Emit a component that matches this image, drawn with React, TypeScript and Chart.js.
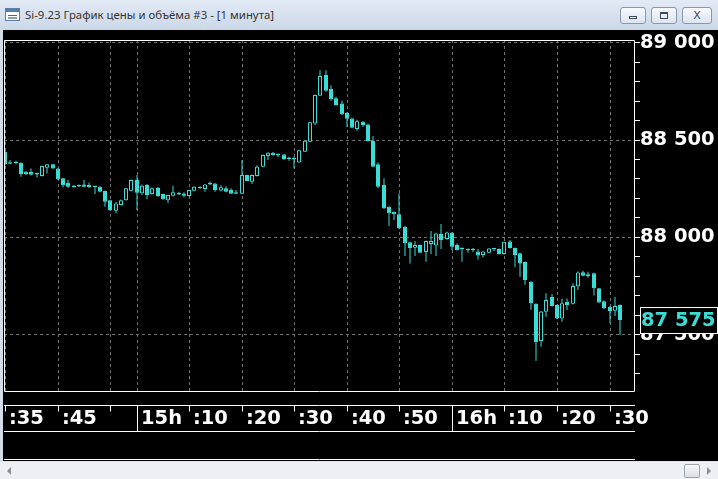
import React, { useEffect, useRef } from 'react';
import { Chart, registerables } from 'chart.js';

Chart.register(...registerables);

// 1-minute candles, index = minutes since 14:35
const opens = [
  88440, 88380, 88382, 88383, 88337, 88335, 88326, 88315, 88357, 88375,
  88354, 88303, 88280, 88266, 88263, 88272, 88269, 88261, 88260, 88238,
  88191, 88136, 88166, 88191, 88239, 88294, 88226, 88269, 88222, 88253,
  88222, 88191, 88213, 88222, 88225, 88212, 88239, 88260, 88248, 88281,
  88277, 88241, 88252, 88243, 88228, 88224, 88320, 88285, 88315, 88363,
  88418, 88435, 88425, 88426, 88406, 88403, 88385, 88440, 88491, 88585,
  88728, 88834, 88762, 88714, 88688, 88640, 88611, 88556, 88594, 88580,
  88495, 88376, 88269, 88157, 88131, 88119, 88054, 87974, 87946, 87960,
  87924, 87965, 87958, 88017, 87991, 88023, 87960, 87943, 87936, 87935,
  87927, 87909, 87921, 87943, 87940, 87914, 87979, 87945, 87918, 87873,
  87772, 87658, 87467, 87618, 87693, 87652, 87583, 87667, 87659, 87748,
  87820, 87810, 87815, 87738, 87672, 87643, 87622, 87652,
];
const highs = [
  88446, 88397, 88393, 88385, 88340, 88354, 88332, 88368, 88377, 88378,
  88356, 88305, 88294, 88268, 88272, 88294, 88280, 88264, 88262, 88240,
  88193, 88183, 88194, 88254, 88297, 88320, 88272, 88274, 88256, 88258,
  88224, 88219, 88265, 88234, 88232, 88245, 88262, 88262, 88274, 88285,
  88279, 88268, 88263, 88252, 88243, 88397, 88322, 88323, 88370, 88426,
  88437, 88438, 88431, 88428, 88414, 88414, 88450, 88498, 88594, 88734,
  88859, 88859, 88782, 88722, 88702, 88643, 88614, 88604, 88597, 88583,
  88520, 88384, 88303, 88160, 88133, 88226, 88058, 87977, 87981, 87963,
  87983, 88032, 88023, 88068, 88029, 88026, 87968, 87945, 87943, 87945,
  87940, 87929, 87945, 87945, 87942, 87979, 87986, 87948, 87920, 87876,
  87774, 87661, 87621, 87712, 87708, 87655, 87686, 87686, 87764, 87824,
  87828, 87823, 87818, 87740, 87675, 87646, 87693, 87655,
];
const lows = [
  88370, 88376, 88375, 88311, 88320, 88318, 88308, 88313, 88328, 88352,
  88294, 88256, 88254, 88255, 88259, 88257, 88254, 88222, 88232, 88157,
  88136, 88123, 88164, 88189, 88236, 88140, 88218, 88195, 88219, 88209,
  88193, 88176, 88210, 88218, 88205, 88210, 88237, 88250, 88234, 88269,
  88234, 88235, 88232, 88222, 88222, 88222, 88288, 88274, 88313, 88360,
  88397, 88421, 88411, 88397, 88393, 88354, 88383, 88438, 88489, 88577,
  88727, 88748, 88702, 88677, 88628, 88568, 88560, 88548, 88568, 88492,
  88360, 88252, 88146, 88058, 88089, 88043, 87904, 87865, 87904, 87918,
  87874, 87914, 87904, 87940, 87988, 87934, 87932, 87874, 87920, 87924,
  87886, 87896, 87918, 87929, 87912, 87910, 87942, 87846, 87797, 87756,
  87628, 87365, 87438, 87592, 87644, 87580, 87566, 87626, 87655, 87729,
  87800, 87792, 87701, 87663, 87632, 87558, 87595, 87498,
];
const closes = [
  88376, 88378, 88380, 88325, 88325, 88322, 88323, 88366, 88375, 88354,
  88298, 88268, 88260, 88259, 88261, 88260, 88257, 88258, 88234, 88183,
  88140, 88174, 88191, 88252, 88294, 88229, 88265, 88217, 88252, 88212,
  88195, 88217, 88232, 88220, 88214, 88243, 88260, 88252, 88272, 88271,
  88243, 88257, 88234, 88224, 88224, 88320, 88290, 88320, 88363, 88423,
  88435, 88423, 88422, 88402, 88403, 88400, 88448, 88496, 88591, 88731,
  88829, 88753, 88709, 88680, 88633, 88609, 88563, 88597, 88577, 88495,
  88363, 88260, 88149, 88123, 88119, 88046, 87969, 87945, 87960, 87921,
  87981, 87981, 88020, 87986, 88025, 87951, 87934, 87940, 87934, 87933,
  87906, 87927, 87943, 87938, 87914, 87977, 87945, 87909, 87866, 87780,
  87661, 87462, 87619, 87678, 87647, 87583, 87661, 87652, 87750, 87819,
  87802, 87801, 87738, 87665, 87635, 87621, 87647, 87575,
];

const timeTickMinutes = [0, 10, 20, 25, 35, 45, 55, 65, 75, 85, 95, 105, 115];
const timeTickLabels = [':35', ':45', '', '15h', ':10', ':20', ':30', ':40', ':50', '16h', ':10', ':20', ':30'];
const priceTicks = [
  87300, 87400, 87500, 87600, 87700, 87800, 87900, 88000, 88100,
  88200, 88300, 88400, 88500, 88600, 88700, 88800, 88900, 89000,
];
const lastPrice = 87575;

const CYAN = '#3adcd6';
const GRID = '#707070';
const FONT = 'DejaVu Sans';

function fmtPrice(v: number): string {
  const th = Math.floor(v / 1000);
  const rest = String(Math.round(v % 1000)).padStart(3, '0');
  return `${th} ${rest}`;
}

const framePlugin = {
  id: 'quikFrame',
  afterDraw(chart: any) {
    const { ctx, chartArea: a, scales } = chart;
    const xs = scales.x;
    const ys = scales.y;
    ctx.save();
    ctx.strokeStyle = '#ffffff';
    ctx.lineWidth = 1;
    // plot frame
    ctx.beginPath();
    ctx.moveTo(a.left + 0.5, a.top + 0.5);
    ctx.lineTo(a.right + 0.5, a.top + 0.5);
    ctx.lineTo(a.right + 0.5, a.bottom - 0.5);
    ctx.lineTo(a.left + 0.5, a.bottom - 0.5);
    ctx.closePath();
    ctx.stroke();
    // time strip
    const y1 = a.bottom + 13.5;
    const y2 = a.bottom + 39.5;
    const y3 = a.bottom + 67.5;
    ctx.beginPath();
    [y1, y2, y3].forEach((yy) => {
      ctx.moveTo(a.left, yy);
      ctx.lineTo(a.right + 1, yy);
    });
    xs.ticks.forEach((t: any) => {
      const px = Math.round(xs.getPixelForValue(t.value)) + 0.5;
      const k = timeTickMinutes.indexOf(t.value);
      const lbl = k >= 0 ? timeTickLabels[k] : '';
      ctx.moveTo(px, y1);
      ctx.lineTo(px, lbl.endsWith('h') ? y2 : y1 + 6);
    });
    ctx.stroke();
    // last price box
    const py = ys.getPixelForValue(lastPrice);
    const bx = a.right + 6.5;
    const by = Math.round(py - 13) + 0.5;
    const bw = chart.width - bx - 0.5;
    ctx.fillStyle = '#000000';
    ctx.fillRect(bx, by, bw, 26);
    ctx.strokeRect(bx, by, bw, 26);
    ctx.fillStyle = CYAN;
    ctx.font = `bold 19.5px "${FONT}"`;
    ctx.textAlign = 'left';
    ctx.textBaseline = 'middle';
    ctx.fillText(fmtPrice(lastPrice), a.right + 7, py + 1);
    ctx.restore();
  },
};

export default function App() {
  const ref = useRef<HTMLCanvasElement>(null);

  useEffect(() => {
    const bodyData = opens.map((o, i) => ({ x: i, y: [o, closes[i]] }));
    const wickData = lows.map((l, i) => ({ x: i, y: [l, highs[i]] }));
    const bodyFill = opens.map((o, i) => (closes[i] >= o ? '#000000' : CYAN));

    const chart = new Chart(ref.current as HTMLCanvasElement, {
      type: 'bar',
      data: {
        datasets: [
          {
            label: 'body',
            data: bodyData as any,
            backgroundColor: bodyFill,
            borderColor: CYAN,
            borderWidth: 1,
            borderSkipped: false,
            barThickness: 4,
            minBarLength: 1.5,
            grouped: false,
            inflateAmount: 0,
            order: 0,
          } as any,
          {
            label: 'wick',
            data: wickData as any,
            backgroundColor: CYAN,
            borderWidth: 0,
            barThickness: 1,
            grouped: false,
            inflateAmount: 0,
            order: 1,
          } as any,
        ],
      },
      options: {
        animation: false,
        responsive: false,
        devicePixelRatio: 1,
        events: [],
        layout: { padding: { left: 4, top: 40, right: 0, bottom: 0 } },
        plugins: { legend: { display: false }, tooltip: { enabled: false } },
        scales: {
          x: {
            type: 'linear',
            position: 'bottom',
            min: -0.23,
            max: 119.66,
            bounds: 'data',
            offset: false,
            alignToPixels: true,
            afterBuildTicks: (s: any) => {
              s.ticks = timeTickMinutes.map((v) => ({ value: v }));
            },
            afterFit: (s: any) => {
              s.height = 87;
            },
            grid: {
              offset: false,
              color: GRID,
              lineWidth: 1,
              drawTicks: false,
            },
            border: { display: false, dash: [3, 3] },
            ticks: {
              autoSkip: false,
              maxRotation: 0,
              minRotation: 0,
              align: 'start',
              labelOffset: 4,
              padding: 0,
              color: '#ffffff',
              font: { family: FONT, size: 19.5, weight: 'bold', lineHeight: '54px' },
              callback: (v: any) => {
                const k = timeTickMinutes.indexOf(Number(v));
                return k >= 0 ? timeTickLabels[k] : '';
              },
            },
          } as any,
          y: {
            type: 'linear',
            position: 'right',
            min: 87205,
            max: 89014,
            bounds: 'data',
            afterBuildTicks: (s: any) => {
              s.ticks = priceTicks.map((v) => ({ value: v }));
            },
            afterFit: (s: any) => {
              s.width = 84;
            },
            grid: {
              color: (c: any) => (c.tick && c.tick.value % 500 === 0 ? GRID : 'rgba(0,0,0,0)'),
              lineWidth: 1,
              drawTicks: true,
              tickLength: 6,
              tickColor: '#ffffff',
            },
            border: { display: false, dash: [3, 3] },
            ticks: {
              autoSkip: false,
              padding: 0,
              color: '#ffffff',
              font: { family: FONT, size: 19.5, weight: 'bold' },
              callback: (v: any) => (Number(v) % 500 === 0 ? fmtPrice(Number(v)) : ''),
            },
          } as any,
        },
      },
      plugins: [framePlugin],
    });
    return () => chart.destroy();
  }, []);

  const btn: React.CSSProperties = {
    position: 'absolute',
    top: 7,
    height: 17,
    border: '1px solid #8797ad',
    borderRadius: 3,
    background: 'linear-gradient(#f7f9fc, #dde5ef)',
    boxSizing: 'border-box',
  };

  return (
    <div
      style={{
        position: 'absolute',
        left: 0,
        top: 0,
        width: 718,
        height: 479,
        background: '#000000',
        overflow: 'hidden',
      }}
    >
      <canvas
        ref={ref}
        width={718}
        height={479}
        style={{ position: 'absolute', left: 0, top: 0, width: 718, height: 479 }}
      />
      {/* title bar */}
      <div
        style={{
          position: 'absolute',
          left: 0,
          top: 0,
          width: 718,
          height: 30,
          background: 'linear-gradient(#e2eaf5, #cbd8e8)',
          fontFamily: '"Noto Sans", "Open Sans", sans-serif',
          fontSize: 11.4,
          color: '#333333',
        }}
      >
        <div
          style={{
            position: 'absolute',
            left: 5,
            top: 8,
            width: 15,
            height: 13,
            background: '#ffffff',
            border: '1px solid #5f7d9e',
            boxSizing: 'border-box',
          }}
        >
          <div style={{ position: 'absolute', left: 0, top: 0, width: 13, height: 3, background: '#4f7fb8' }} />
          <div style={{ position: 'absolute', left: 2, top: 6, width: 9, height: 1, background: '#3a6aa0' }} />
          <div style={{ position: 'absolute', left: 2, top: 8, width: 9, height: 2, background: '#8a9fb8' }} />
        </div>
        <div style={{ position: 'absolute', left: 25, top: 7, whiteSpace: 'nowrap', lineHeight: '16px' }}>
          Si-9.23 График цены и объёма #3 - [1 минута]
        </div>
        <div style={{ ...btn, left: 620, width: 26 }}>
          <div style={{ position: 'absolute', left: 8, top: 8, width: 8, height: 3, border: '1px solid #3b4a5e', boxSizing: 'border-box' }} />
        </div>
        <div style={{ ...btn, left: 651, width: 26 }}>
          <div style={{ position: 'absolute', left: 8, top: 4, width: 8, height: 7, border: '1px solid #3b4a5e', borderTopWidth: 2, boxSizing: 'border-box' }} />
        </div>
        <div style={{ ...btn, left: 682, width: 30, fontSize: 11, color: '#3b4a5e', textAlign: 'center', lineHeight: '15px', fontFamily: 'DejaVu Sans' }}>
          X
        </div>
      </div>
      {/* left window border */}
      <div style={{ position: 'absolute', left: 0, top: 30, width: 3, height: 431, background: '#d3dbe6' }} />
      {/* bottom scrollbar */}
      <div
        style={{
          position: 'absolute',
          left: 0,
          top: 461,
          width: 718,
          height: 18,
          background: '#eceff3',
          borderTop: '1px solid #dfe4ea',
          boxSizing: 'border-box',
        }}
      >
        <div
          style={{
            position: 'absolute',
            left: 7,
            top: 5,
            width: 0,
            height: 0,
            borderTop: '4px solid transparent',
            borderBottom: '4px solid transparent',
            borderRight: '4px solid #8a8f96',
          }}
        />
        <div
          style={{
            position: 'absolute',
            left: 684,
            top: 2,
            width: 16,
            height: 14,
            border: '1px solid #9aa3ae',
            borderRadius: 2,
            background: 'linear-gradient(#f7f8fa, #dadfe6)',
            boxSizing: 'border-box',
          }}
        />
        <div
          style={{
            position: 'absolute',
            left: 707,
            top: 5,
            width: 0,
            height: 0,
            borderTop: '4px solid transparent',
            borderBottom: '4px solid transparent',
            borderLeft: '4px solid #8a8f96',
          }}
        />
      </div>
    </div>
  );
}
